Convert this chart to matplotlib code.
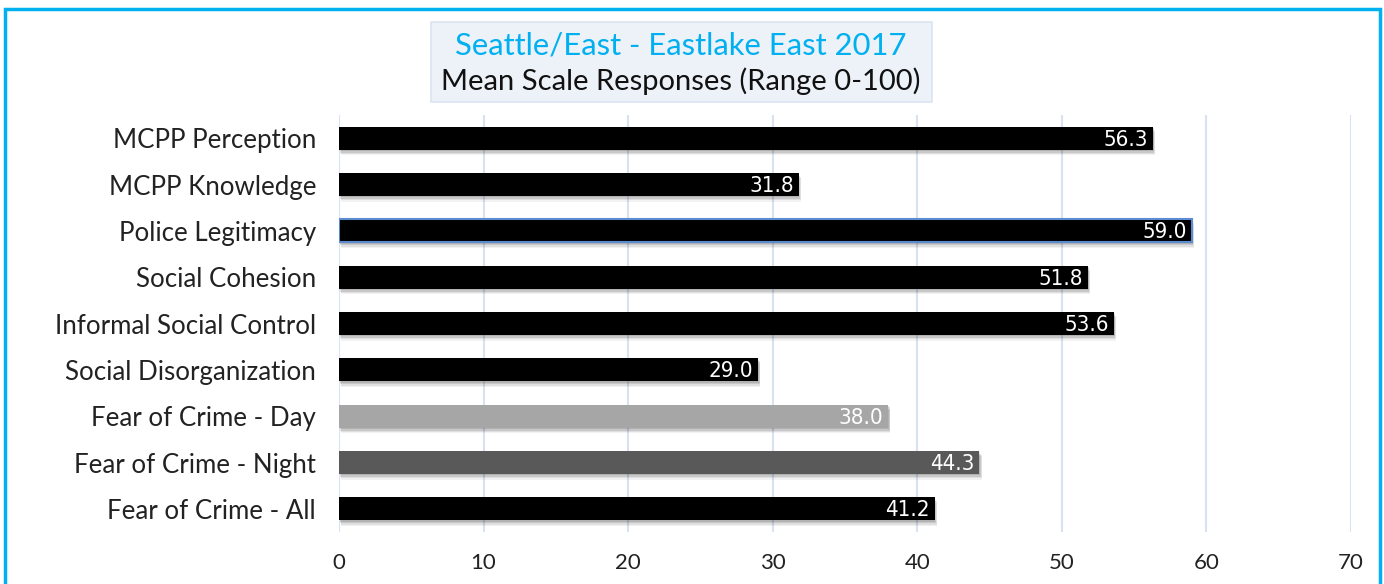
import matplotlib
matplotlib.use("Agg")
import matplotlib.pyplot as plt
import matplotlib.patheffects as pe
from matplotlib import font_manager
from matplotlib.patches import Rectangle

categories = [
    "MCPP Perception",
    "MCPP Knowledge",
    "Police Legitimacy",
    "Social Cohesion",
    "Informal Social Control",
    "Social Disorganization",
    "Fear of Crime - Day",
    "Fear of Crime - Night",
    "Fear of Crime - All",
]
values = [56.3, 31.8, 59.0, 51.8, 53.6, 29.0, 38.0, 44.3, 41.2]
bar_colors = ["#000000", "#000000", "#000000", "#000000", "#000000",
              "#000000", "#A6A6A6", "#595959", "#000000"]
x_ticks = [0, 10, 20, 30, 40, 50, 60, 70]
title_line1 = "Seattle/East - Eastlake East 2017"
title_line2 = "Mean Scale Responses (Range 0-100)"

W, H = 1384, 584
fig = plt.figure(figsize=(W / 100, H / 100), dpi=100)
fig.patch.set_facecolor("white")

label_font = ["Lato", "DejaVu Sans"]

# narrow face for the numbers inside the bars
cond = [f.fname for f in font_manager.fontManager.ttflist
        if "DejaVuSansCondensed.ttf" in f.fname]
if cond:
    value_props = dict(fontproperties=font_manager.FontProperties(fname=cond[0], size=16))
else:
    value_props = dict(family=label_font, fontsize=16)

ax = fig.add_axes([339 / W, 1 - 532 / H, 1012 / W, 417 / H])
ypos = list(range(len(categories)))

shadow = [pe.SimplePatchShadow(offset=(0.5, -1.0), shadow_rgbFace="#000000", alpha=0.10),
          pe.SimplePatchShadow(offset=(1.0, -2.0), shadow_rgbFace="#000000", alpha=0.10),
          pe.SimplePatchShadow(offset=(1.5, -3.0), shadow_rgbFace="#000000", alpha=0.08),
          pe.SimplePatchShadow(offset=(1.5, -4.0), shadow_rgbFace="#000000", alpha=0.05),
          pe.Normal()]
bars = ax.barh(ypos, values, height=0.5, color=bar_colors, zorder=3)
for i, b in enumerate(bars):
    b.set_path_effects(shadow)
    if categories[i] == "Police Legitimacy":
        b.set_edgecolor("#5B8BD0")
        b.set_linewidth(1.5)

for y, v in zip(ypos, values):
    ax.text(v - 0.35, y + 0.03, f"{v:.1f}", color="white", ha="right", va="center",
            zorder=4, **value_props)

ax.set_xlim(0, 70)
ax.set_ylim(8.5, -0.5)
ax.set_xticks(x_ticks)
ax.set_xticklabels([str(t) for t in x_ticks], fontsize=16, family=label_font, color="#222222")
ax.set_yticks(ypos)
ax.set_yticklabels(categories, fontsize=18.6, family=label_font, color="#222222")
ax.tick_params(axis="both", length=0)
ax.tick_params(axis="x", pad=15)
ax.tick_params(axis="y", pad=16.5)
ax.grid(axis="x", color="#D9E2F1", linewidth=1.5, zorder=0)
ax.set_axisbelow(True)
for s in ax.spines.values():
    s.set_visible(False)

# title box
fig.patches.append(Rectangle((431 / W, 1 - 102 / H), 501 / W, 80 / H,
                             transform=fig.transFigure, facecolor="#EDF1F8",
                             edgecolor="#DCE4F0", linewidth=1.2, zorder=1))
fig.text(681 / W, 1 - 46 / H, title_line1, ha="center", va="center",
         fontsize=22.3, color="#00B0F0", family=label_font)
fig.text(681 / W, 1 - 81 / H, title_line2, ha="center", va="center",
         fontsize=21, color="#111111", family=label_font)

# outer border
fig.patches.append(Rectangle((5 / W, -0.05), 1375 / W, 1 - 9 / H + 0.05,
                             transform=fig.transFigure, facecolor="none",
                             edgecolor="#00B0F0", linewidth=2.5, zorder=5))

fig.savefig("out.png", dpi=100)
